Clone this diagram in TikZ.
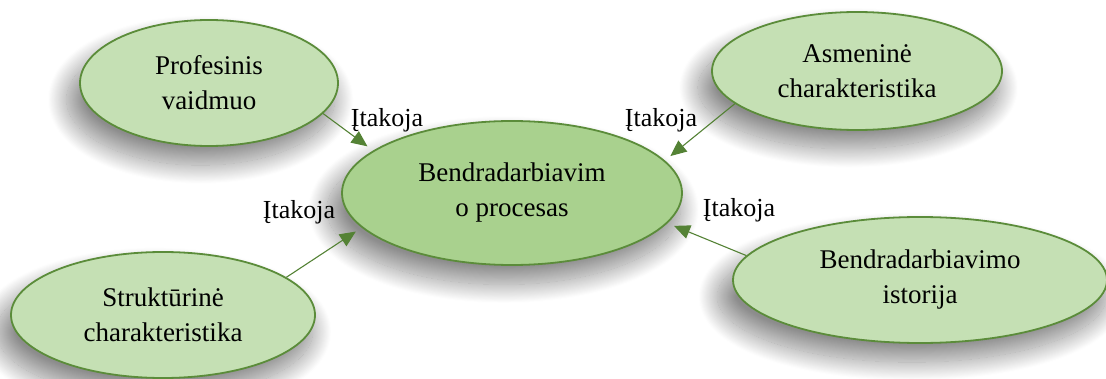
\documentclass[tikz,border=0pt]{standalone}
\usepackage{fontspec}
\setmainfont{Liberation Serif}
\usetikzlibrary{shapes.geometric,arrows.meta,shadows.blur}
\definecolor{outerfill}{HTML}{C5E0B4}
\definecolor{centerfill}{HTML}{A9D18E}
\definecolor{edgegreen}{HTML}{5B8C3A}
\definecolor{arrowgreen}{HTML}{548235}
\tikzset{
  bubble/.style={ellipse, draw=edgegreen, line width=1.8pt, fill=outerfill, inner sep=0pt,
    align=center, font=\fontsize{27}{35}\selectfont,
    blur shadow={shadow xshift=-8pt, shadow yshift=-16pt, shadow scale=1.04, shadow blur radius=18pt, shadow blur steps=40, shadow opacity=45}},
  centerbubble/.style={bubble, fill=centerfill},
  influence/.style={draw=arrowgreen, line width=1.1pt, -{Triangle[length=16pt,width=14pt]}, shorten >=7pt},
  lbl/.style={font=\fontsize{26}{30}\selectfont, inner sep=0pt}
}
\begin{document}
\begin{tikzpicture}[x=1pt,y=1pt]
\useasboundingbox (0,0) rectangle (1106,378);
\node[centerbubble, minimum width=340pt, minimum height=144pt] (C) at (512,185) {Bendradarbiavim\\o procesas};
\node[bubble, minimum width=258pt, minimum height=126pt] (P) at (209,295) {Profesinis\\vaidmuo};
\node[bubble, minimum width=290pt, minimum height=118pt] (A) at (857,307) {Asmeninė\\charakteristika};
\node[bubble, minimum width=374pt, minimum height=126pt] (H) at (920,98) {Bendradarbiavimo\\istorija};
\node[bubble, minimum width=304pt, minimum height=126pt] (S) at (163,63) {Struktūrinė\\charakteristika};
\draw[influence] (P.-15) -- (C.163);
\draw[influence] (A.195) -- (C.12);
\draw[influence] (S.17) -- (C.193);
\draw[influence] (H.172) -- (C.-11);
\node[lbl] (L1) at (387,258) {Įtakoja};
\node[lbl] (L2) at (661,258) {Įtakoja};
\node[lbl] (L3) at (299,166) {Įtakoja};
\node[lbl] (L4) at (739,168) {Įtakoja};
\end{tikzpicture}
\end{document}
